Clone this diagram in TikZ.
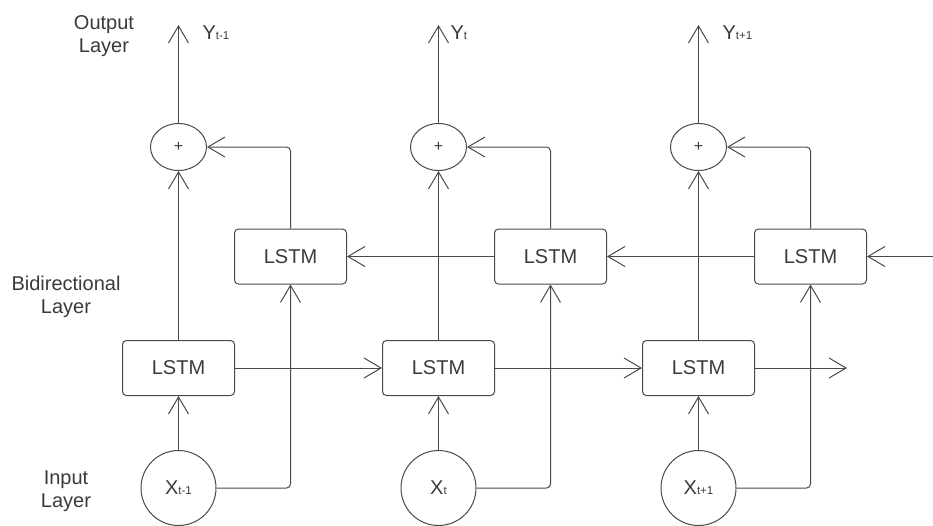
\documentclass[tikz,border=0pt]{standalone}
\usepackage{fontspec}
\setmainfont{Liberation Sans}
\usetikzlibrary{positioning,arrows.meta,shapes.geometric}
\definecolor{ink}{HTML}{3A3A3A}
\definecolor{linecol}{HTML}{4A4A4A}
\newcommand{\sub}[1]{{\fontsize{11.5}{12}\selectfont #1}}

\begin{document}
\begin{tikzpicture}[
  x=1pt, y=-1pt,
  font=\fontsize{20}{23.5}\selectfont,
  color=linecol, line width=1pt,
  lstm/.style={draw=linecol, rounded corners=4pt, minimum width=112pt, minimum height=55pt, inner sep=0pt, text=ink},
  sumnode/.style={draw=linecol, ellipse, minimum width=56pt, minimum height=47pt, inner sep=0pt, text=ink, font=\fontsize{16}{16}\selectfont},
  innode/.style={draw=linecol, circle, minimum size=75pt, inner sep=0pt, text=ink},
  lab/.style={align=center, text=ink},
  ylab/.style={anchor=base west, inner sep=0pt, text=ink},
  >={Straight Barb[length=17pt, width=20pt]}
]
\useasboundingbox (0,0) rectangle (933,525);

% layer labels
\node[lab] (outlab) at (104,36) {Output\\ Layer};
\node[lab] (bilab) at (66,297) {Bidirectional\\ Layer};
\node[lab] (inlab) at (66,491) {Input\\ Layer};

% inputs
\node[innode] (x1) at (178.5,488) {X\sub{t-1}};
\node[innode] (x2) at (438.5,488) {X\sub{t}};
\node[innode] (x3) at (698.5,488) {X\sub{t+1}};

% forward and backward LSTM cells
\node[lstm] (f1) at (178.5,368) {LSTM};
\node[lstm] (f2) at (438.5,368) {LSTM};
\node[lstm] (f3) at (698.5,368) {LSTM};
\node[lstm] (b1) at (290.5,256.5) {LSTM};
\node[lstm] (b2) at (550.5,256.5) {LSTM};
\node[lstm] (b3) at (810.5,256.5) {LSTM};

% sums
\node[sumnode] (s1) at (178.5,147) {+};
\node[sumnode] (s2) at (438.5,147) {+};
\node[sumnode] (s3) at (698.5,147) {+};

% outputs
\coordinate (y1) at (178.5,25);
\coordinate (y2) at (438.5,25);
\coordinate (y3) at (698.5,25);
\node[ylab] (y1lab) at (202,39) {Y\sub{t-1}};
\node[ylab] (y2lab) at (450,39) {Y\sub{t}};
\node[ylab] (y3lab) at (722,39) {Y\sub{t+1}};

\coordinate (fend) at (847,368);
\coordinate (bin) at (933,256.5);

\draw[->] (x1) -- (f1);
\draw[->] (x2) -- (f2);
\draw[->] (x3) -- (f3);
\draw[->] (f1) -- (s1);
\draw[->] (f2) -- (s2);
\draw[->] (f3) -- (s3);
\draw[->] (s1) -- (y1);
\draw[->] (s2) -- (y2);
\draw[->] (s3) -- (y3);

\draw[->, rounded corners=4pt] (x1.east) -| (b1.south);
\draw[->, rounded corners=4pt] (x2.east) -| (b2.south);
\draw[->, rounded corners=4pt] (x3.east) -| (b3.south);
\draw[->, rounded corners=4pt] (b1.north) |- (s1.east);
\draw[->, rounded corners=4pt] (b2.north) |- (s2.east);
\draw[->, rounded corners=4pt] (b3.north) |- (s3.east);

\draw[->] (f1) -- (f2);
\draw[->] (f2) -- (f3);
\draw[->] (f3) -- (fend);
\draw[->] (bin) -- (b3);
\draw[->] (b3) -- (b2);
\draw[->] (b2) -- (b1);
\end{tikzpicture}
\end{document}
